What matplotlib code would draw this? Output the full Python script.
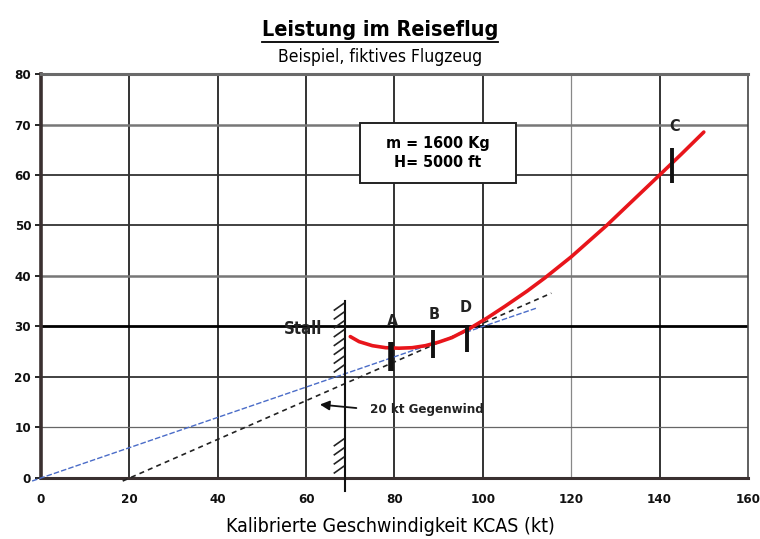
import numpy as np
import matplotlib
matplotlib.use("Agg")
import matplotlib.pyplot as plt
from matplotlib.lines import Line2D
from matplotlib.patches import Rectangle
from matplotlib import font_manager as fm

# data
speed_red = [70, 72, 75, 78, 81, 84, 87, 90, 93, 97, 101, 105, 110, 114, 120, 128, 134, 140, 145, 150]
power_red = [28.0, 27.0, 26.2, 25.8, 25.7, 25.8, 26.2, 26.9, 27.8, 29.6, 31.7, 34.0, 37.0, 39.6,
             43.8, 50.0, 55.0, 60.0, 64.2, 68.5]

tangent_calm_x = [-2, 112]
tangent_calm_y = [-0.6, 33.6]
tangent_wind_x = [18.5, 115.5]
tangent_wind_y = [-0.6, 36.6]

stall_speed = 68.7
stall_range = [-2.5, 35]

marker_names = ["A", "B", "D", "C"]
marker_x = [79.3, 88.8, 96.5, 142.8]
marker_lo = [21.2, 23.7, 25.0, 58.5]
marker_hi = [27.0, 29.3, 30.3, 65.3]
label_pos = [(79.5, 31.0), (89.0, 32.4), (96.0, 33.8), (143.4, 69.6)]

x_ticks = [0, 20, 40, 60, 80, 100, 120, 140, 160]
y_ticks = [0, 10, 20, 30, 40, 50, 60, 70, 80]

# look for a narrow font, the reference uses a condensed grotesque
fonts = fm.fontManager.ttflist
names = {f.name for f in fonts}
stretch = "normal"
if "Liberation Sans Narrow" in names:
    family = "Liberation Sans Narrow"
else:
    cond = [f for f in fonts if str(f.stretch) in ("condensed", "semi-condensed", "extra-condensed")
            or "Condensed" in f.name or "Narrow" in f.name]
    if cond:
        family = cond[0].name
        stretch = "condensed"
    else:
        family = "DejaVu Sans"
narrow = [family, "DejaVu Sans"]
is_narrow = family != "DejaVu Sans" or stretch == "condensed"
k = 1.0 if is_narrow else 0.8

plt.rcParams["font.family"] = narrow
plt.rcParams["font.stretch"] = stretch

fig = plt.figure(figsize=(7.6, 5.39), dpi=100)
ax = fig.add_axes([0.0539, 0.1132, 0.9303, 0.7495])
ax.set_xlim(0, 160)
ax.set_ylim(0, 80)

# grid
for x in x_ticks[1:-1]:
    c, lw = ("#888888", 0.9) if x == 120 else ("#333333", 1.4)
    ax.axvline(x, color=c, lw=lw, zorder=1)
for y in y_ticks[1:-1]:
    c, lw = "#333333", 1.3
    if y == 30:
        c, lw = "#000000", 2.0
    elif y == 40 or y == 70:
        c, lw = "#777777", 1.8
    elif y == 10:
        c, lw = "#666666", 0.9
    ax.axhline(y, color=c, lw=lw, zorder=1)

for side, lw, c in [("left", 2.6, "#3a3030"), ("bottom", 2.2, "#3a3030"),
                    ("top", 2.2, "#6a6a6a"), ("right", 1.2, "#444444")]:
    ax.spines[side].set_linewidth(lw)
    ax.spines[side].set_color(c)

ax.set_xticks(x_ticks)
ax.set_yticks(y_ticks)
ax.tick_params(axis="x", length=0, pad=11)
ax.tick_params(axis="y", length=4, width=1.2, pad=3)
for lab in ax.get_xticklabels() + ax.get_yticklabels():
    lab.set_fontweight("bold")
    lab.set_fontsize(9.5 * k)
    lab.set_color("#111111")

# tangent lines
ax.plot(tangent_calm_x, tangent_calm_y, color="#4a6cc8", lw=1.0, ls=(0, (4, 1.5)),
        zorder=3, clip_on=False)
ax.plot(tangent_wind_x, tangent_wind_y, color="#222222", lw=1.2, ls=(0, (3, 2.5)),
        zorder=3, clip_on=False)

# power curve
ax.plot(speed_red, power_red, color="#e8151b", lw=2.6, zorder=4, solid_capstyle="round")

# stall line with hatching
ax.plot([stall_speed, stall_speed], stall_range, color="#111111", lw=1.5, zorder=3, clip_on=False)
for y0 in list(np.arange(21.0, 34.6, 1.75)) + list(np.arange(1.0, 7.6, 1.8)):
    ax.plot([stall_speed - 2.3, stall_speed - 0.2], [y0, y0 + 1.3], color="#222222", lw=1.2,
            zorder=3)
ax.text(stall_speed - 5.0, 29.6, "Stall", ha="right", va="center", fontsize=12 * k,
        fontweight="bold", color="#222222", zorder=5)

# markers
for name, x, lo, hi, (lx, ly) in zip(marker_names, marker_x, marker_lo, marker_hi, label_pos):
    lw = 4.0 if name == "A" else 2.8
    ax.plot([x, x], [lo, hi], color="#111111", lw=lw, zorder=5, solid_capstyle="butt")
    ax.text(lx, ly, name, ha="center", va="center", fontsize=11.5 * k, fontweight="bold",
            color="#222222", zorder=5)

# headwind annotation
ax.annotate("", xy=(62.5, 14.6), xytext=(72.0, 13.8),
            arrowprops=dict(arrowstyle="-|>", color="#111111", lw=1.3, mutation_scale=14),
            zorder=5)
ax.text(74.5, 13.5, "20 kt Gegenwind", ha="left", va="center", fontsize=9.5 * k,
        fontweight="bold", color="#222222", zorder=5)

# info box
ax.add_patch(Rectangle((72.2, 58.5), 35.2, 11.8, facecolor="white", edgecolor="#222222",
                       lw=1.4, zorder=6))
ax.text(89.8, 64.4, "m = 1600 Kg\nH= 5000 ft", ha="center", va="center", fontsize=11.5 * k,
        fontweight="bold", linespacing=1.3, zorder=7)

# titles
title = fig.text(0.5, 0.944, "Leistung im Reiseflug", ha="center", va="center",
                 fontsize=15.5 * k, fontweight="bold")
fig.text(0.5, 0.894, "Beispiel, fiktives Flugzeug", ha="center", va="center", fontsize=12.5 * k)
fig.text(0.513, 0.024, "Kalibrierte Geschwindigkeit KCAS (kt)", ha="center", va="center",
         fontsize=14 * k)

fig.canvas.draw()
bb = title.get_window_extent().transformed(fig.transFigure.inverted())
fig.add_artist(Line2D([bb.x0, bb.x1], [bb.y0 - 0.004, bb.y0 - 0.004], color="black", lw=1.3,
                      transform=fig.transFigure))

fig.savefig("out.png", dpi=100)
